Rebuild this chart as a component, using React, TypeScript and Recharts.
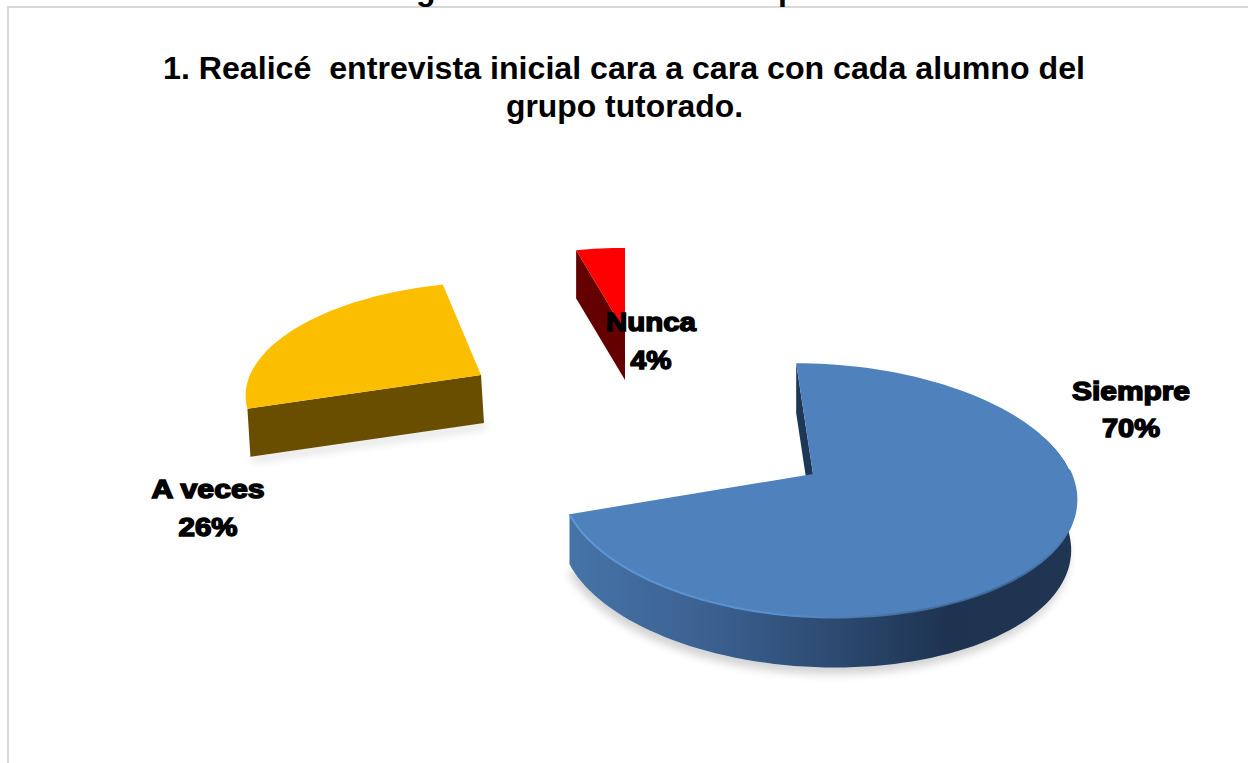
import React from "react";
import { PieChart, Pie } from "recharts";

const categories = ["Siempre", "A veces", "Nunca"];
const values = [70, 26, 4];
const titleLines = ["1. Realicé  entrevista inicial cara a cara con cada alumno del", "grupo tutorado."];
const clippedHeading = ["g", "p"];

const chartData = categories.map((name, i) => ({ name, value: values[i] }));

type Proj = { cx: number; cy: number; rxL: number; rxR: number; ry: number; sk: number; dx: number; dy: number; rightShrink: number; top: string; wall: string; edge?: string; shadow: number };
const sliceStyles: Record<string, Proj> = {
  Siempre: { cx: 813, cy: 474, rxL: 252, rxR: 258, ry: 125, sk: -19, dx: 0, dy: 50, rightShrink: 0.98, top: "#4F81BD", wall: "url(#blueWall)", edge: "url(#blueEdge)", shadow: 0.17 },
  "A veces": { cx: 481, cy: 375, rxL: 231, rxR: 231, ry: 105, sk: 15, dx: 3, dy: 48, rightShrink: 1, top: "#FCBE00", wall: "#6A4E00", shadow: 0.14 },
  Nunca: { cx: 625, cy: 332, rxL: 221, rxR: 221, ry: 95, sk: 0, dx: 0, dy: 48, rightShrink: 1, top: "#FF0000", wall: "#640000", shadow: 0.1 },
};
const labelStyles: Record<string, { x: number; y1: number; y2: number; w1: number; w2: number }> = {
  Siempre: { x: 1131, y1: 400, y2: 437, w1: 118, w2: 58 },
  "A veces": { x: 208, y1: 498, y2: 536, w1: 113, w2: 59 },
  Nunca: { x: 651, y1: 331, y2: 369, w1: 90, w2: 41 },
};

const A = 0.129;
const FONT = "'Liberation Sans', Arial, sans-serif";

function project(s: Proj, thetaDeg: number, bottom = false) {
  const t = (thetaDeg * Math.PI) / 180;
  const u = Math.sin(t);
  const v = Math.cos(t);
  const d = 1 + A * v;
  let rx = u < 0 ? s.rxL : s.rxR;
  if (bottom && u > 0) rx *= s.rightShrink;
  const x = s.cx + (rx * u + s.sk * v) / d + (bottom ? s.dx : 0);
  const y = s.cy - (s.ry * v) / d + (bottom ? s.dy : 0);
  return [x, y];
}

function arcPoints(s: Proj, a: number, b: number, bottom = false) {
  const pts: number[][] = [];
  const n = Math.max(2, Math.ceil(Math.abs(b - a) / 2));
  for (let i = 0; i <= n; i++) pts.push(project(s, a + ((b - a) * i) / n, bottom));
  return pts;
}
const toPath = (pts: number[][], close = false) =>
  pts.map((p, i) => `${i ? "L" : "M"}${p[0].toFixed(1)} ${p[1].toFixed(1)}`).join(" ") + (close ? " Z" : "");

function Slice3D(props: any) {
  const name = props.name ?? props.payload?.name;
  const s = sliceStyles[name];
  const th0 = 90 - props.startAngle;
  const th1 = 90 - props.endAngle;
  const apex = [s.cx, s.cy];
  const apexLow = [s.cx + s.dx, s.cy + s.dy];
  const p0 = project(s, th0);
  const p0Low = project(s, th0, true);
  const face = toPath([apex, ...arcPoints(s, th0, th1)], true);
  const fa = Math.max(th0, 72);
  const fb = Math.min(th1, 252);
  const hasFront = fb > fa;
  const frontWall = hasFront ? toPath([...arcPoints(s, fa, fb), ...arcPoints(s, fb, fa, true)], true) : "";
  const startWall = toPath([apex, p0, p0Low, apexLow], true);
  const shadowPath = toPath(
    hasFront
      ? [...arcPoints(s, fa, fb, true).map((p) => [p[0] - 2, p[1] + 7]), apexLow]
      : [p0Low, apexLow, [apexLow[0] + 4, apexLow[1] + 5], [p0Low[0] + 4, p0Low[1] + 5]],
    true
  );
  return (
    <g>
      <path d={shadowPath} fill="#000" opacity={s.shadow} filter="url(#softShadow)" />
      <path d={startWall} fill={name === "Siempre" ? "#1F3757" : s.wall} />
      {hasFront && <path d={frontWall} fill={s.wall} />}
      <path d={face} fill={s.top} />
      {s.edge && <path d={toPath(arcPoints(s, Math.max(fa, 88), fb))} fill="none" stroke={s.edge} strokeWidth={2} />}
    </g>
  );
}

function SliceLabel(props: any) {
  const l = labelStyles[props.name];
  const pct = `${Math.round(props.percent * 100)}%`;
  const common = {
    fontFamily: FONT,
    fontWeight: 700,
    fontSize: 26,
    fill: "#000",
    stroke: "#000",
    strokeWidth: 1.5,
    textAnchor: "middle" as const,
    lengthAdjust: "spacingAndGlyphs" as const,
  };
  return (
    <g>
      <text x={l.x} y={l.y1} textLength={l.w1} {...common}>{props.name}</text>
      <text x={l.x} y={l.y2} textLength={l.w2} {...common}>{pct}</text>
    </g>
  );
}

export default function App() {
  return (
    <div style={{ position: "absolute", left: 0, top: 0, width: 1248, height: 763, overflow: "hidden", background: "#fff" }}>
      <div style={{ position: "absolute", left: 7, top: 6, width: 1241, height: 757, borderTop: "2px solid #d9d9d9", borderLeft: "2px solid #d9d9d9", boxSizing: "border-box" }} />
      <PieChart width={1248} height={763} style={{ position: "absolute", left: 0, top: 0 }} margin={{ top: 0, right: 0, bottom: 0, left: 0 }}>
        <defs>
          <linearGradient id="blueWall" x1="0" y1="0" x2="1" y2="0">
            <stop offset="0" stopColor="#4674A8" />
            <stop offset="0.28" stopColor="#3B6090" />
            <stop offset="0.5" stopColor="#2E4C74" />
            <stop offset="0.75" stopColor="#1D3350" />
            <stop offset="1" stopColor="#1F3552" />
          </linearGradient>
          <linearGradient id="blueEdge" x1="1" y1="0" x2="0" y2="0">
            <stop offset="0" stopColor="#4F81BD" />
            <stop offset="0.12" stopColor="#3F6796" />
            <stop offset="0.35" stopColor="#44709F" />
            <stop offset="0.6" stopColor="#5B90CE" />
            <stop offset="1" stopColor="#5E96D6" />
          </linearGradient>
          <filter id="softShadow" x="-10%" y="-10%" width="120%" height="130%">
            <feGaussianBlur stdDeviation="4" />
          </filter>
        </defs>
        <text x={416} y={0} fontFamily={FONT} fontWeight={700} fontSize={32} fill="#000">{clippedHeading[0]}</text>
        <text x={778} y={0} fontFamily={FONT} fontWeight={700} fontSize={32} fill="#000">{clippedHeading[1]}</text>
        <text x={624} y={79} textAnchor="middle" textLength={922} lengthAdjust="spacingAndGlyphs" xmlSpace="preserve" fontFamily={FONT} fontWeight={700} fontSize={32} fill="#000">{titleLines[0]}</text>
        <text x={624.5} y={117} textAnchor="middle" textLength={237} lengthAdjust="spacingAndGlyphs" fontFamily={FONT} fontWeight={700} fontSize={32} fill="#000">{titleLines[1]}</text>
        <Pie
          data={chartData}
          dataKey="value"
          nameKey="name"
          cx={700}
          cy={450}
          outerRadius={250}
          startAngle={90}
          endAngle={-270}
          stroke="none"
          isAnimationActive={false}
          labelLine={false}
          label={(p: any) => <SliceLabel {...p} />}
          shape={(p: any) => <Slice3D {...p} />}
        />
      </PieChart>
    </div>
  );
}
